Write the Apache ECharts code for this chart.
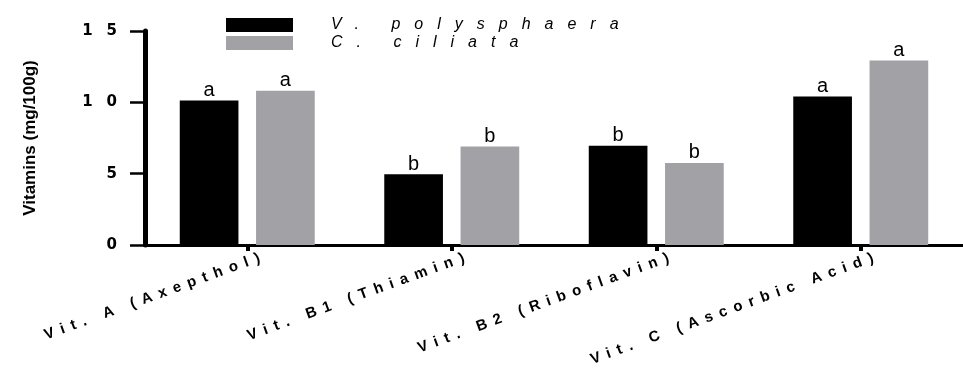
<!DOCTYPE html>
<html>
<head>
<meta charset="utf-8">
<script src="https://cdn.jsdelivr.net/npm/echarts@6/dist/echarts.min.js"></script>
<style>
html,body{margin:0;padding:0;background:#fff;}
#chart{width:963px;height:372px;}
</style>
</head>
<body>
<div id="chart"></div>
<script>
// ---- data ----
const categories = ['Vit. A (Axepthol)', 'Vit. B1 (Thiamin)', 'Vit. B2 (Riboflavin)', 'Vit. C (Ascorbic Acid)'];
const seriesNames = ['V. polysphaera', 'C. ciliata'];
const vPolysphaera = [10.13, 4.96, 6.95, 10.41];
const cCiliata = [10.81, 6.90, 5.75, 12.93];
const lettersV = ['a', 'b', 'b', 'a'];
const lettersC = ['a', 'b', 'b', 'a'];
const yTicks = [0, 5, 10, 15];

// letter spacing support: font family token "LSn" sets canvas letterSpacing to n px
(function () {
  const proto = window.CanvasRenderingContext2D && CanvasRenderingContext2D.prototype;
  if (!proto || !('letterSpacing' in proto)) return;
  const desc = Object.getOwnPropertyDescriptor(proto, 'font');
  if (!desc) return;
  Object.defineProperty(proto, 'font', {
    configurable: true,
    get: function () { return desc.get.call(this); },
    set: function (v) {
      desc.set.call(this, v);
      const m = /LS(\d+(?:\.\d+)?)/.exec(v || '');
      this.letterSpacing = m ? m[1] + 'px' : '0px';
    }
  });
})();

const chart = echarts.init(document.getElementById('chart'), null, { renderer: 'canvas' });

function legendFor(name, top) {
  return {
    orient: 'vertical',
    left: 226,
    top: top,
    padding: 0,
    itemWidth: 67,
    itemHeight: 14,
    itemGap: 0,
    icon: 'rect',
    data: [name],
    textStyle: {
      fontSize: 16,
      lineHeight: 14,
      fontStyle: 'italic',
      color: '#000',
      fontFamily: "LS14, 'Liberation Sans'",
      padding: [0, 0, 0, 33]
    }
  };
}

const option = {
  backgroundColor: '#ffffff',
  animation: false,
  grid: { left: 145, right: -10, top: 31, bottom: 127, containLabel: false },
  legend: [legendFor(seriesNames[0], 10), legendFor(seriesNames[1], 28)],
  xAxis: {
    type: 'category',
    data: categories,
    axisLine: { show: true, lineStyle: { color: '#000', width: 3 } },
    axisTick: { show: true, alignWithLabel: true, length: 6, lineStyle: { color: '#000', width: 4 } },
    axisLabel: {
      interval: 0,
      rotate: 20,
      margin: 17,
      color: '#000',
      fontSize: 15,
      fontWeight: 'bold',
      fontFamily: "LS7, 'Liberation Sans'",
      padding: [0, -20, 0, 0]
    },
    splitLine: { show: false }
  },
  yAxis: {
    type: 'value',
    min: yTicks[0],
    max: yTicks[yTicks.length - 1],
    interval: yTicks[1] - yTicks[0],
    name: 'Vitamins (mg/100g)',
    nameLocation: 'middle',
    nameGap: 106,
    nameTextStyle: {
      fontSize: 17,
      fontWeight: 'bold',
      color: '#000',
      fontFamily: "'Liberation Sans'"
    },
    axisLine: { show: true, lineStyle: { color: '#000', width: 5 } },
    axisTick: { show: true, length: 15, lineStyle: { color: '#000', width: 2.5 } },
    axisLabel: {
      margin: 14,
      color: '#000',
      fontSize: 15,
      fontWeight: 'bold',
      fontFamily: "LS14, 'DejaVu Sans'"
    },
    splitLine: { show: false }
  },
  series: [
    {
      name: seriesNames[0],
      type: 'bar',
      data: vPolysphaera,
      barGap: '30%',
      barCategoryGap: '34%',
      itemStyle: { color: '#000000' },
      label: {
        show: true,
        position: 'top',
        distance: 0,
        color: '#000',
        fontSize: 20,
        fontFamily: "'Liberation Sans'",
        formatter: function (p) { return lettersV[p.dataIndex]; }
      }
    },
    {
      name: seriesNames[1],
      type: 'bar',
      data: cCiliata,
      barGap: '30%',
      barCategoryGap: '34%',
      itemStyle: { color: '#a2a1a6' },
      label: {
        show: true,
        position: 'top',
        distance: 0,
        color: '#000',
        fontSize: 20,
        fontFamily: "'Liberation Sans'",
        formatter: function (p) { return lettersC[p.dataIndex]; }
      }
    }
  ]
};

chart.setOption(option);
</script>
</body>
</html>
